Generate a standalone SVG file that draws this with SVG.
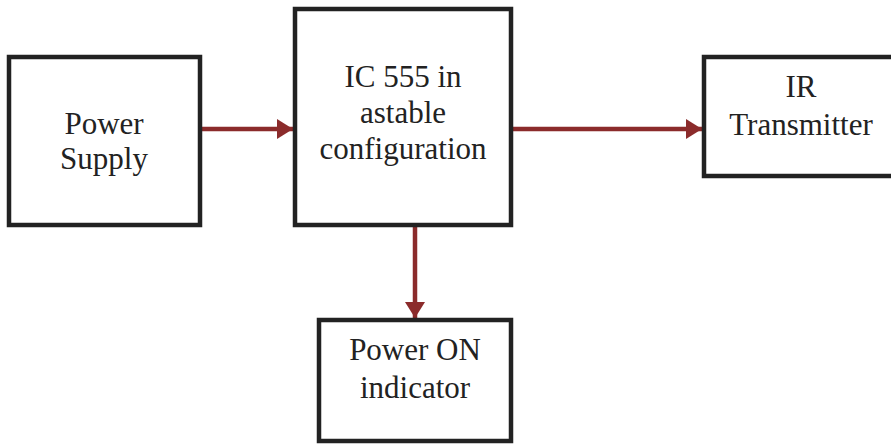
<svg xmlns="http://www.w3.org/2000/svg" width="891" height="444" viewBox="0 0 891 444">
<style>
.box{fill:#fff;stroke:#222;stroke-width:4.5}
.lbl{font-family:"Liberation Serif","Times New Roman",serif;font-size:31px;fill:#222;text-anchor:middle}
.conn{stroke:#8B2B2B;stroke-width:4.5;fill:none}
</style>
<defs>
<marker id="ah" markerUnits="userSpaceOnUse" markerWidth="16" markerHeight="20" refX="16" refY="10" orient="auto">
<path d="M0,0 L16,10 L0,20 Z" fill="#8B2B2B"/>
</marker>
</defs>
<rect width="891" height="444" fill="#fff"/>
<g id="connectors">
<line class="conn" x1="202" y1="129" x2="293" y2="129" marker-end="url(#ah)"/>
<line class="conn" x1="513" y1="129" x2="702" y2="129" marker-end="url(#ah)"/>
<line class="conn" x1="415" y1="227" x2="415" y2="318" marker-end="url(#ah)"/>
</g>
<g id="power-supply">
<rect class="box" x="9" y="57" width="191" height="168"/>
<text class="lbl" x="104" y="134">Power</text>
<text class="lbl" x="104" y="169">Supply</text>
</g>
<g id="ic555">
<rect class="box" x="295" y="9" width="216" height="216"/>
<text class="lbl" x="403" y="87">IC 555 in</text>
<text class="lbl" x="403" y="123">astable</text>
<text class="lbl" x="403" y="159">configuration</text>
</g>
<g id="ir-transmitter">
<rect class="box" x="704" y="57" width="200" height="119"/>
<text class="lbl" x="801" y="97">IR</text>
<text class="lbl" x="801" y="135">Transmitter</text>
</g>
<g id="power-on-indicator">
<rect class="box" x="319" y="320" width="192" height="121"/>
<text class="lbl" x="415" y="360">Power ON</text>
<text class="lbl" x="415" y="398">indicator</text>
</g>
</svg>
